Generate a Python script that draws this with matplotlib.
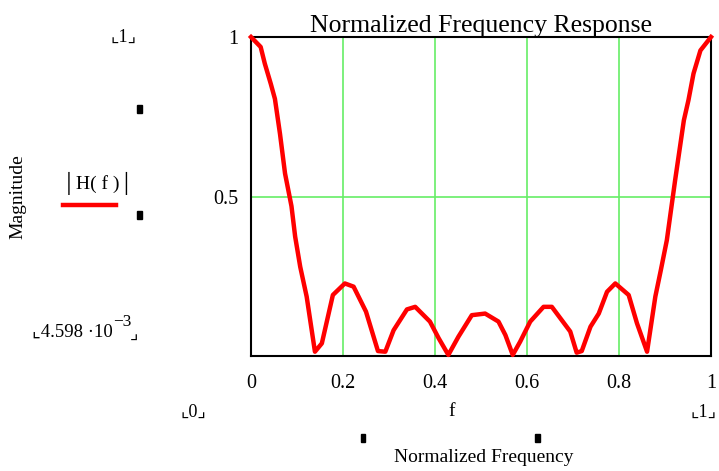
import numpy as np
import matplotlib
matplotlib.use('Agg')
import matplotlib.pyplot as plt

# |H(f)|, normalized frequency 0..1
freq = [0.000, 0.021, 0.030, 0.043, 0.052, 0.063, 0.074, 0.088, 0.096, 0.107,
        0.121, 0.139, 0.154, 0.178, 0.204, 0.223, 0.250, 0.276, 0.292, 0.310,
        0.339, 0.357, 0.389, 0.408, 0.429, 0.451, 0.480, 0.509, 0.538, 0.553,
        0.569, 0.585, 0.607, 0.636, 0.654, 0.694, 0.708, 0.719, 0.738, 0.756,
        0.774, 0.792, 0.821, 0.839, 0.861, 0.879, 0.891, 0.904, 0.922, 0.941,
        0.951, 0.962, 0.977, 1.000]
mag = [1.000, 0.969, 0.917, 0.854, 0.807, 0.698, 0.574, 0.472, 0.377, 0.283,
       0.190, 0.018, 0.044, 0.195, 0.231, 0.221, 0.143, 0.020, 0.018, 0.085,
       0.150, 0.158, 0.112, 0.060, 0.008, 0.065, 0.132, 0.137, 0.112, 0.070,
       0.008, 0.049, 0.112, 0.158, 0.158, 0.081, 0.015, 0.020, 0.096, 0.137,
       0.205, 0.231, 0.195, 0.107, 0.018, 0.190, 0.273, 0.366, 0.553, 0.740,
       0.803, 0.886, 0.958, 1.000]

x_ticks = [0, 0.2, 0.4, 0.6, 0.8, 1]
x_tick_labels = ['0', '0.2', '0.4', '0.6', '0.8', '1']
y_ticks = [0.5, 1]
y_tick_labels = ['0.5', '1']
y_min = 4.598e-3

serif = ['Liberation Serif', 'DejaVu Serif']
plt.rcParams['font.family'] = serif

W, H = 719, 471
fig = plt.figure(figsize=(W / 100, H / 100), dpi=100)
ax = fig.add_axes([251 / W, 115 / H, 460 / W, 319 / H])

ax.plot(freq, mag, color='#ff0000', linewidth=3.2, solid_joinstyle='round', zorder=3, clip_on=False)
ax.set_xlim(0, 1)
ax.set_ylim(y_min, 1)
ax.set_xticks(x_ticks)
ax.set_xticklabels(x_tick_labels)
ax.set_yticks(y_ticks)
ax.set_yticklabels(y_tick_labels)
ax.tick_params(length=0, labelsize=14.5, pad=9)
ax.tick_params(axis='x', pad=13)
ax.grid(True, color='#66ee66', linewidth=1.2)
for s in ax.spines.values():
    s.set_linewidth(1.5)
    s.set_color('black')
    s.set_zorder(2)
ax.set_title('Normalized Frequency Response', fontsize=18.5, pad=3)


def ptext(px, py, s, **kw):
    # place text by pixel position measured from top-left
    return fig.text(px / W, 1 - py / H, s, **kw)


# Mathcad-style decorations around the plot
fs = 14
brk = ['Liberation Serif', 'DejaVu Sans']
ptext(124, 37, '\u231e1\u231f', ha='center', va='center', fontsize=13, family=brk)
ptext(113, 332, '\u231e4.598 \u00b710', ha='right', va='center', fontsize=13.5, family=brk)
ptext(113, 322, '\u22123', ha='left', va='center', fontsize=12.5)
ptext(130, 334, '\u231f', ha='left', va='center', fontsize=13, family=brk)
ptext(193, 412, '\u231e0\u231f', ha='center', va='center', fontsize=13, family=brk)
ptext(704, 412, '\u231e1\u231f', ha='center', va='center', fontsize=13, family=brk)
ptext(18, 197, 'Magnitude', rotation=90, ha='center', va='center', fontsize=fs)
ptext(98, 183, '\u2502H( f )\u2502', ha='center', va='center', fontsize=fs, family=brk)
fig.add_artist(plt.Line2D([63 / W, 116 / W], [1 - 205 / H] * 2, color='#ff0000', linewidth=3.2))
ptext(452, 412, 'f', ha='center', va='center', fontsize=fs)
ptext(484, 457, 'Normalized Frequency', ha='center', va='center', fontsize=fs)
for (px, py) in [(139, 109), (139, 215), (363, 438), (537, 438)]:
    fig.add_artist(plt.Rectangle(((px - 2.5) / W, 1 - (py + 4) / H), 5 / W, 8 / H,
                                 color='black', transform=fig.transFigure))

fig.savefig('out.png', dpi=100)
